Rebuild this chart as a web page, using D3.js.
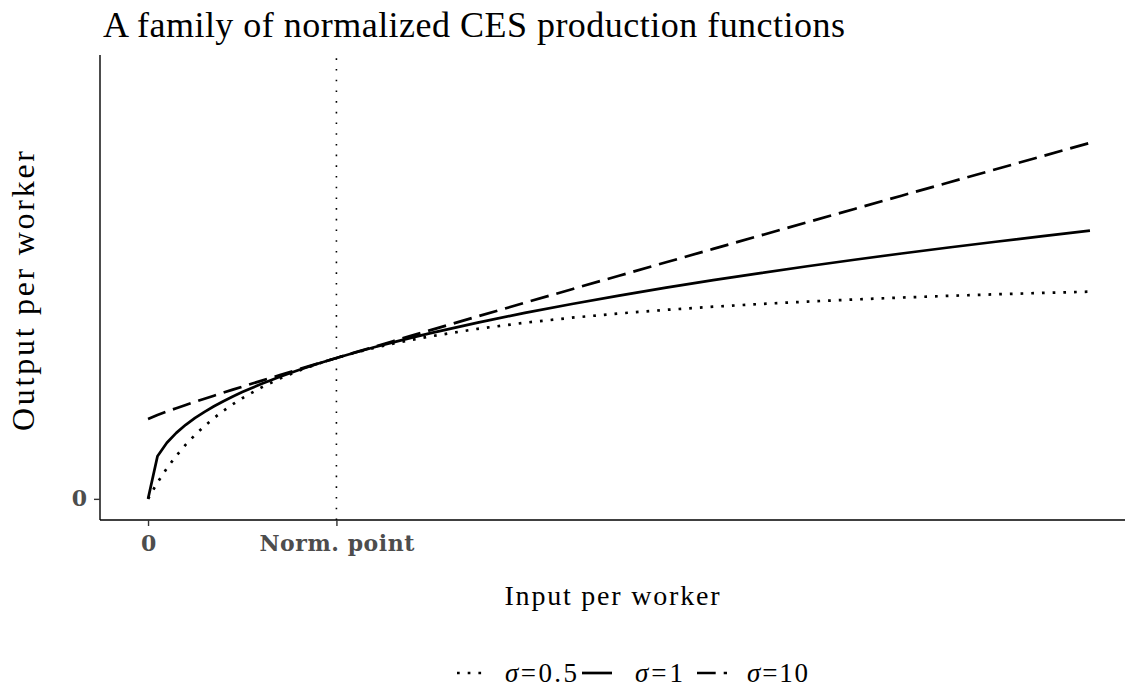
<!DOCTYPE html>
<html>
<head>
<meta charset="utf-8">
<script src="https://cdn.jsdelivr.net/npm/d3@7"></script>
<style>
  html, body { margin: 0; padding: 0; background: #fff; }
  svg { display: block; }
</style>
</head>
<body>
<div id="chart"></div>
<script>
// Input per worker (normalization point at 1)
const inputs = [0, 0.05, 0.1, 0.15, 0.2, 0.25, 0.3, 0.35, 0.4, 0.45, 0.5,
  0.6, 0.7, 0.8, 0.9, 1.0, 1.1, 1.2, 1.3, 1.4, 1.5,
  1.75, 2.0, 2.25, 2.5, 2.75, 3.0, 3.25, 3.5, 3.75, 4.0, 4.25, 4.5, 4.75, 5.0];

// Output per worker, relative to the normalization point
const outSigma05 = [0, 0.1163, 0.2174, 0.3061, 0.3846, 0.4545, 0.5172, 0.5738, 0.625, 0.6716, 0.7143,
  0.7895, 0.8537, 0.9091, 0.9574, 1.0, 1.0377, 1.0714, 1.1017, 1.1290, 1.1538,
  1.2069, 1.25, 1.2857, 1.3158, 1.3415, 1.3636, 1.3830, 1.4, 1.4151, 1.4286, 1.4407, 1.4516, 1.4615, 1.4706];
const outSigma1 = [0, 0.3017, 0.3981, 0.4682, 0.5253, 0.5743, 0.6178, 0.6571, 0.6931, 0.7266, 0.7579,
  0.8152, 0.8670, 0.9146, 0.9587, 1.0, 1.0389, 1.0757, 1.1106, 1.1441, 1.1761,
  1.2508, 1.3195, 1.3832, 1.4427, 1.4988, 1.5518, 1.6023, 1.6506, 1.6968, 1.7411, 1.7837, 1.8249, 1.8648, 1.9037];
const outSigma10 = [0.5668, 0.5953, 0.6200, 0.6435, 0.6664, 0.6887, 0.7107, 0.7323, 0.7538, 0.7750, 0.7960,
  0.8376, 0.8787, 0.9194, 0.9598, 1.0, 1.0399, 1.0795, 1.1191, 1.1584, 1.1976,
  1.2950, 1.3917, 1.4880, 1.5836, 1.6789, 1.7740, 1.8688, 1.9634, 2.0575, 2.1516, 2.2453, 2.3391, 2.4327, 2.5264];

const seriesNames = ['0.5', '1', '10'];
const normPoint = 1;
const xTickValues = [0, normPoint];
const xTickLabels = ['0', 'Norm. point'];
const yTickValues = [0];
const yTickLabels = ['0'];

const W = 1125, H = 688;
const panel = { left: 100, right: 1125, top: 55, bottom: 520 };

const svg = d3.select('#chart').append('svg')
  .attr('width', W).attr('height', H)
  .attr('viewBox', [0, 0, W, H]);

const x = d3.scaleLinear().domain([-0.255, 5.186]).range([panel.left, panel.right]);
const y = d3.scaleLinear().domain([-0.15, 3.15]).range([panel.bottom, panel.top]);

const serif = "'Liberation Serif', 'Times New Roman', serif";
const tickFont = "'DejaVu Serif', serif";

// line styles: dotted, solid, long-dashed
const styles = [
  { dash: '2.7,8' },
  { dash: null },
  { dash: '18.7,8' }
];
const seriesValues = [outSigma05, outSigma1, outSigma10];

// vertical line at the normalization point
svg.append('line')
  .attr('x1', x(normPoint)).attr('x2', x(normPoint))
  .attr('y1', panel.bottom).attr('y2', panel.top)
  .attr('stroke', '#000')
  .attr('stroke-width', 1.6)
  .attr('stroke-dasharray', '1.6,9.1');

const line = d3.line()
  .x(d => x(d[0]))
  .y(d => y(d[1]));

seriesValues.forEach((vals, i) => {
  svg.append('path')
    .datum(inputs.map((k, j) => [k, vals[j]]))
    .attr('fill', 'none')
    .attr('stroke', '#000')
    .attr('stroke-width', 2.7)
    .attr('stroke-linejoin', 'round')
    .attr('stroke-dasharray', styles[i].dash)
    .attr('d', line);
});

// axes
const xAxis = svg.append('g')
  .attr('transform', `translate(0,${panel.bottom})`)
  .call(d3.axisBottom(x).tickValues(xTickValues)
    .tickFormat((d, i) => xTickLabels[i]).tickSize(6).tickPadding(5));
const yAxis = svg.append('g')
  .attr('transform', `translate(${panel.left},0)`)
  .call(d3.axisLeft(y).tickValues(yTickValues)
    .tickFormat((d, i) => yTickLabels[i]).tickSize(6).tickPadding(7));

xAxis.select('.domain').attr('d', `M${panel.left},0H${panel.right}`)
  .attr('stroke', '#000').attr('stroke-width', 1.4);
yAxis.select('.domain').attr('d', `M0,${panel.bottom}V${panel.top}`)
  .attr('stroke', '#000').attr('stroke-width', 1.4);

[xAxis, yAxis].forEach(g => {
  g.selectAll('.tick line').attr('stroke', '#333').attr('stroke-width', 1.4);
  g.selectAll('.tick text')
    .attr('font-family', tickFont)
    .attr('font-weight', 'bold')
    .attr('font-size', 22)
    .attr('fill', '#4d4d4d');
});
xAxis.selectAll('.tick text').attr('dy', '0.92em');
xAxis.selectAll('.tick text').filter((d, i) => i === 1)
  .attr('textLength', 155).attr('lengthAdjust', 'spacing');

// title
svg.append('text')
  .attr('x', 103).attr('y', 37)
  .attr('font-family', serif)
  .attr('font-size', 36)
  .attr('fill', '#000')
  .attr('textLength', 742)
  .attr('lengthAdjust', 'spacing')
  .text('A family of normalized CES production functions');

// axis titles
svg.append('text')
  .attr('x', 612).attr('y', 605)
  .attr('text-anchor', 'middle')
  .attr('font-family', serif)
  .attr('font-size', 28)
  .attr('textLength', 215)
  .attr('lengthAdjust', 'spacing')
  .text('Input per worker');

svg.append('text')
  .attr('transform', 'translate(34,291) rotate(-90)')
  .attr('text-anchor', 'middle')
  .attr('font-family', serif)
  .attr('font-size', 32)
  .attr('textLength', 280)
  .attr('lengthAdjust', 'spacing')
  .text('Output per worker');

// legend
const legendKeys = [457, 582, 697];
const legendText = [505, 635, 747];
const legendWidths = [72, 48, 61];
const legendY = 673;

seriesNames.forEach((s, i) => {
  svg.append('line')
    .attr('x1', legendKeys[i]).attr('x2', legendKeys[i] + 30)
    .attr('y1', legendY).attr('y2', legendY)
    .attr('stroke', '#000')
    .attr('stroke-width', 2.7)
    .attr('stroke-dasharray', styles[i].dash);
  const t = svg.append('text')
    .attr('x', legendText[i]).attr('y', 682)
    .attr('font-family', serif)
    .attr('font-size', 27)
    .attr('textLength', legendWidths[i])
    .attr('lengthAdjust', 'spacing');
  t.append('tspan').attr('font-style', 'italic').text('σ');
  t.append('tspan').text('=' + s);
});
</script>
</body>
</html>
